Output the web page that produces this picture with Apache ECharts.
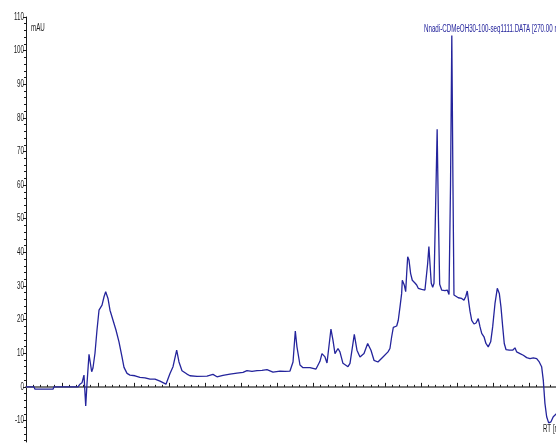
<!DOCTYPE html>
<html>
<head>
<meta charset="utf-8">
<script src="https://cdn.jsdelivr.net/npm/echarts@6/dist/echarts.min.js"></script>
<style>
  html, body { margin: 0; padding: 0; background: #fff; }
  #chart { width: 556px; height: 443px; }
</style>
</head>
<body>
<div id="chart"></div>
<script>
// Retention time (min) of each sample point of the 270 nm trace
const retentionTime = [
  0.00, 1.11, 1.25, 3.76, 3.90, 7.24, 7.51, 7.79, 8.07, 8.31, 8.49, 8.77, 9.14, 9.32, 9.60,
  9.88, 10.16, 10.58, 10.86, 11.09, 11.41, 11.69, 12.11, 12.52, 12.94, 13.36, 13.64, 14.06, 14.47, 15.17,
  15.86, 16.56, 17.26, 17.95, 18.65, 19.48, 20.04, 20.46, 20.97, 21.29, 21.71, 22.40, 22.82, 23.80, 25.19,
  26.02, 26.58, 27.41, 28.39, 29.36, 30.20, 30.75, 31.45, 32.15, 32.84, 33.54, 34.37, 35.35, 36.04, 36.74,
  37.16, 37.48, 37.71, 38.13, 38.55, 39.52, 40.36, 40.91, 41.19, 41.61, 41.89, 42.16, 42.44, 42.72, 43.00,
  43.42, 43.69, 44.11, 44.81, 45.09, 45.69, 46.06, 46.48, 47.04, 47.55, 48.01, 48.43, 48.98, 49.68, 50.38,
  50.65, 50.89, 51.12, 51.59, 51.81, 52.05, 52.28, 52.37, 52.64, 52.84, 52.98, 53.12, 53.30, 53.53, 53.76,
  54.13, 54.37, 54.59, 55.06, 55.52, 55.76, 55.90, 56.07, 56.22, 56.40, 56.60, 56.78, 56.99, 57.22, 57.40,
  57.57, 57.85, 58.31, 58.63, 58.87, 59.08, 59.26, 59.42, 59.56, 59.77, 60.16, 60.63, 60.95, 61.19, 61.41,
  61.61, 61.79, 62.03, 62.35, 62.63, 62.94, 63.18, 63.42, 63.74, 64.01, 64.33, 64.67, 64.95, 65.27, 65.59,
  65.87, 66.10, 66.34, 66.56, 66.80, 67.26, 67.73, 68.05, 68.29, 68.75, 69.21, 69.68, 70.14, 70.60, 71.07,
  71.43, 71.76, 71.99, 72.22, 72.46, 72.74, 73.06, 73.38, 73.75, 74.30
];

// Absorbance (mAU) at each retention time
const absorbance = [
  0.0, 0.0, -0.7, -0.7, 0.0, 0.0, 0.8, 1.2, 3.5, -5.7, 1.0, 9.7, 4.5, 5.6, 10.0,
  16.9, 22.8, 24.3, 26.8, 28.3, 26.3, 22.8, 19.8, 16.9, 13.4, 8.9, 5.8, 4.0, 3.5, 3.3,
  2.8, 2.7, 2.3, 2.3, 1.7, 0.8, 4.0, 6.0, 10.9, 7.4, 4.8, 3.8, 3.3, 3.1, 3.2,
  3.7, 3.0, 3.4, 3.8, 4.1, 4.3, 4.8, 4.6, 4.8, 4.9, 5.1, 4.4, 4.7, 4.6, 4.7,
  7.4, 16.6, 11.9, 6.5, 5.7, 5.7, 5.3, 7.6, 9.9, 8.9, 7.1, 7.3, 17.2, 13.9, 9.9,
  11.4, 10.4, 7.0, 6.0, 7.0, 15.6, 10.9, 8.9, 9.9, 12.9, 10.9, 7.9, 7.4, 8.9, 10.4,
  11.4, 14.9, 17.7, 18.1, 19.8, 23.8, 27.8, 31.7, 30.3, 28.3, 33.7, 38.7, 37.7, 33.7, 31.7,
  30.9, 30.3, 29.3, 29.0, 28.8, 29.3, 36.7, 41.7, 36.7, 30.8, 29.6, 30.8, 52.0, 76.6, 50.0,
  30.5, 28.8, 28.6, 28.8, 27.5, 60.0, 104.5, 60.0, 27.3, 26.8, 26.5, 26.3, 25.8, 26.8, 28.5,
  25.3, 22.5, 19.8, 18.7, 19.0, 20.3, 17.9, 15.9, 14.9, 12.9, 11.9, 13.4, 17.9, 24.8, 29.3,
  27.8, 23.8, 17.9, 12.9, 11.1, 10.9, 10.9, 11.6, 10.4, 9.9, 9.4, 8.7, 8.4, 8.6, 8.4,
  7.4, 6.0, 2.0, -4.9, -8.9, -10.7, -10.4, -8.9, -8.1, -7.5
];

// Labelled (major) and minor tick positions on the mAU axis
const yMajorTicks = [-10, 0, 10, 20, 30, 40, 50, 60, 70, 80, 90, 100, 110];
const yMinorTicks = [];
for (let v = -16; v <= 110; v += 2) yMinorTicks.push(v);

const traceName = 'Nnadi-CDMeOH30-100-seq1111.DATA [270.00 nm]';
const yUnit = 'mAU';
const xUnit = 'RT [min]';

const Y_MIN = -16.4, Y_MAX = 110;
const X_MIN = 0, X_MAX = 73.76;

// Condensed look: Arial-metric face squeezed horizontally
const FONT = '"Liberation Sans", Arial, sans-serif';
const SQUEEZE = 0.62;
const TRACE_COLOR = '#24249c';

const chart = echarts.init(document.getElementById('chart'), null, { renderer: 'canvas' });

const points = retentionTime.map((t, i) => [t, absorbance[i]]);

const baseOption = {
  animation: false,
  backgroundColor: '#ffffff',
  grid: { left: 26, top: 17, width: 530, height: 425, containLabel: false, outerBoundsMode: 'none' },
  xAxis: [
    {
      type: 'value', min: X_MIN, max: X_MAX, interval: 5, position: 'bottom',
      axisLine: { show: true, lineStyle: { color: '#1a1a1a', width: 1 } },
      axisTick: { show: true, inside: true, length: 4, lineStyle: { color: '#1a1a1a' } },
      minorTick: { show: true, splitNumber: 5, length: 2, lineStyle: { color: '#1a1a1a' } },
      axisLabel: { show: false },
      splitLine: { show: false }
    },
    {
      type: 'value', min: X_MIN, max: X_MAX, position: 'top',
      axisLine: { show: true, lineStyle: { color: '#7a7a7a', width: 2 } },
      axisTick: { show: false }, axisLabel: { show: false }, splitLine: { show: false }
    }
  ],
  yAxis: [
    {
      type: 'value', min: Y_MIN, max: Y_MAX, position: 'left',
      axisLine: { show: true, lineStyle: { color: '#1a1a1a', width: 1 } },
      axisTick: { show: true, length: 3, customValues: yMajorTicks, lineStyle: { color: '#1a1a1a' } },
      axisLabel: { show: false },
      splitLine: { show: false }
    },
    {
      type: 'value', min: Y_MIN, max: Y_MAX, position: 'left', offset: 0,
      axisLine: { show: false },
      axisTick: { show: true, length: 2, customValues: yMinorTicks, lineStyle: { color: '#1a1a1a' } },
      axisLabel: { show: false },
      splitLine: { show: false }
    }
  ],
  series: [
    {
      name: traceName,
      type: 'line',
      xAxisIndex: 0, yAxisIndex: 0,
      data: points,
      showSymbol: false,
      smooth: false,
      lineStyle: { color: TRACE_COLOR, width: 1.3 }
    }
  ]
};
chart.setOption(baseOption);

// Narrow text helper: anchored at (x, y), squeezed horizontally around the anchor
function narrowText(x, y, text, align, color) {
  return {
    type: 'text', x: x, y: y, scaleX: SQUEEZE, scaleY: 1,
    style: {
      text: text, x: 0, y: 0, align: align, verticalAlign: 'middle',
      fontFamily: FONT, fontSize: 10, fill: color
    }
  };
}

// Y tick labels placed through the axis scale
const yAxisX = chart.convertToPixel({ gridIndex: 0 }, [X_MIN, 0])[0];
const labels = yMajorTicks.map(v => {
  const py = chart.convertToPixel({ yAxisIndex: 0 }, v);
  return narrowText(yAxisX - 2, py, String(v), 'right', '#1a1a1a');
});

labels.push(narrowText(31, 28, yUnit, 'left', '#1a1a1a'));
labels.push(narrowText(424, 29, traceName, 'left', TRACE_COLOR));
labels.push(narrowText(543, 429, xUnit, 'left', '#1a1a1a'));

chart.setOption({ graphic: labels });
</script>
</body>
</html>
